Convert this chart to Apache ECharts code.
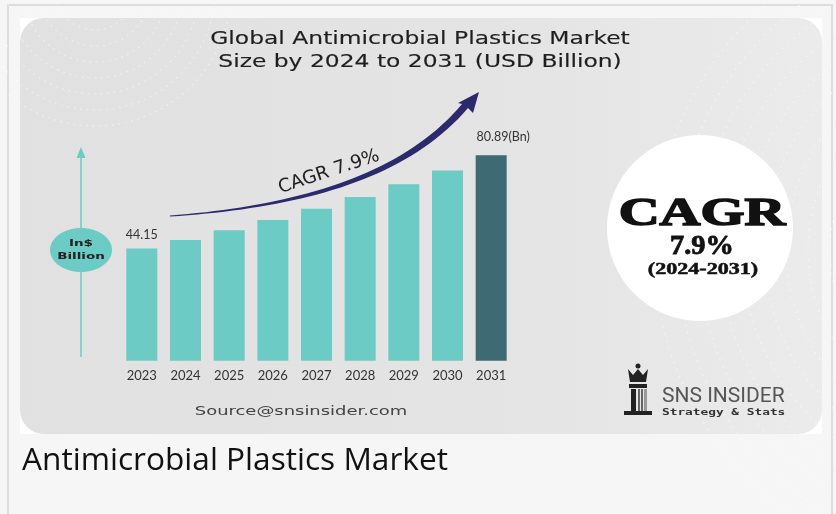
<!DOCTYPE html>
<html>
<head>
<meta charset="utf-8">
<script src="https://cdn.jsdelivr.net/npm/echarts@6/dist/echarts.min.js"></script>
<style>
html,body{margin:0;padding:0;background:#f6f6f6;}
#c{width:836px;height:514px;}
</style>
</head>
<body>
<div id="c"></div>
<script>
const years = ['2023','2024','2025','2026','2027','2028','2029','2030','2031'];
const marketSize = [44.15, 47.5, 51.4, 55.4, 59.8, 64.4, 69.5, 74.9, 80.89];
const titleLines = ['Global Antimicrobial Plastics Market', 'Size by 2024 to 2031 (USD Billion)'];
const cagrText = 'CAGR 7.9%';
const cagrBadge = ['CAGR', '7.9%', '(2024-2031)'];
const unitLines = ['In$', 'Billion'];
const sourceText = 'Source@snsinsider.com';
const brand = ['SNS INSIDER', 'Strategy & Stats'];
const caption = 'Antimicrobial Plastics Market';

const TEAL = '#6dcbc5';
const DARK = '#3e6a73';

const chart = echarts.init(document.getElementById('c'), null, {renderer: 'canvas'});

function txt(x, y, text, font, fill, opts) {
  opts = opts || {};
  const style = {text: text, x: 0, y: 0, font: font, fill: fill,
      textAlign: opts.align || 'center', textVerticalAlign: opts.valign || 'middle'};
  if (opts.stroke) { style.stroke = fill; style.lineWidth = opts.stroke; }
  return {
    type: 'text', x: x, y: y, z: opts.z || 20,
    scaleX: opts.scaleX || 1, rotation: opts.rotation || 0,
    style: style
  };
}

function cubic(p0, p1, p2, p3, n) {
  const pts = [];
  for (let i = 0; i <= n; i++) {
    const t = i / n, u = 1 - t;
    pts.push([
      u*u*u*p0[0] + 3*u*u*t*p1[0] + 3*u*t*t*p2[0] + t*t*t*p3[0],
      u*u*u*p0[1] + 3*u*u*t*p1[1] + 3*u*t*t*p2[1] + t*t*t*p3[1]
    ]);
  }
  return pts;
}
const swoosh = cubic([170,215.6],[290,206],[400,178],[462,104],40)
  .concat([[458,103],[479,92],[473,113]])
  .concat(cubic([468,108],[404,183],[292,208.5],[170,216.6],40));

// faint dotted texture arcs (decoration)
const texture = [];
for (let k = 0; k < 7; k++) {
  texture.push({type: 'arc', z: -2, shape: {cx: 95, cy: -10, r: 40 + k * 16, startAngle: 0, endAngle: Math.PI},
    style: {stroke: 'rgba(255,255,255,0.45)', lineWidth: 1.5, lineDash: [1.5, 5], fill: null}});
}
for (let k = 0; k < 9; k++) {
  texture.push({type: 'arc', z: -2, shape: {cx: 980, cy: 250, r: 150 + k * 22, startAngle: Math.PI * 0.55, endAngle: Math.PI * 1.45},
    style: {stroke: 'rgba(255,255,255,0.5)', lineWidth: 1.4, lineDash: [1.5, 6], fill: null}});
}

const lastIdx = marketSize.length - 1;
const barData = marketSize.map((v, i) => {
  const d = {value: v, itemStyle: {color: i === lastIdx ? DARK : TEAL}};
  if (i === 0) d.label = {show: true, formatter: '{c}', distance: 7};
  if (i === lastIdx) d.label = {show: true, formatter: '{c}(Bn)', distance: 12, offset: [12, 0]};
  return d;
});

const option = {
  backgroundColor: '#f6f6f6',
  animation: false,
  grid: {left: 120, right: 323, top: 106.7, bottom: 153.3},
  xAxis: {
    type: 'category', data: years,
    axisLine: {show: false}, axisTick: {show: false},
    axisLabel: {color: '#333', fontSize: 13, fontFamily: 'Lato', margin: 9}
  },
  yAxis: {type: 'value', min: 0, max: 100, show: false},
  series: [{
    type: 'bar', data: barData, barWidth: 31, z: 5,
    label: {show: false, position: 'top', color: '#333', fontSize: 12.5, fontFamily: 'Lato'}
  }],
  graphic: {elements: [
    {type: 'rect', z: -5, shape: {x: 8, y: 5, width: 824, height: 540}, style: {fill: '#f6f6f6', stroke: '#dcdcdc', lineWidth: 2}},
    {type: 'rect', z: -4, shape: {x: 20, y: 18, width: 802, height: 416}, style: {fill: '#ffffff'}},
    {type: 'rect', z: -3, shape: {x: 20, y: 18, width: 802, height: 416, r: 24},
      style: {fill: new echarts.graphic.LinearGradient(0, 0, 1, 0, [
        {offset: 0, color: '#e1e1e1'}, {offset: 0.6, color: '#e4e4e4'}, {offset: 1, color: '#ebebeb'}])}},
    ...texture,
    {type: 'circle', z: 1, shape: {cx: 700, cy: 228, r: 93}, style: {fill: '#ffffff'}},
    txt(702, 214, cagrBadge[0], 'bold 41px "Liberation Serif"', '#111', {scaleX: 1.38, stroke: 1.6}),
    txt(702, 247, cagrBadge[1], 'bold 27px "Liberation Serif"', '#111', {scaleX: 1.05, stroke: 0.8}),
    txt(703, 270, cagrBadge[2], 'bold 16px "Liberation Serif"', '#111', {scaleX: 1.38, stroke: 0.5}),
    {type: 'line', z: 2, shape: {x1: 81, y1: 154, x2: 81, y2: 357}, style: {stroke: TEAL, lineWidth: 1.5}},
    {type: 'polygon', z: 2, shape: {points: [[81, 147], [76.5, 158], [85.5, 158]]}, style: {fill: TEAL}},
    {type: 'ellipse', z: 3, shape: {cx: 81, cy: 250, rx: 31, ry: 22}, style: {fill: TEAL}},
    txt(81, 244, unitLines[0], 'bold 9px "DejaVu Sans"', '#222', {scaleX: 1.5}),
    txt(81, 257, unitLines[1], 'bold 9px "DejaVu Sans"', '#222', {scaleX: 1.5}),
    {type: 'polygon', z: 3, shape: {points: swoosh}, style: {fill: '#2b2a6c'}},
    txt(329, 172, cagrText, '18.5px "DejaVu Sans"', '#222', {rotation: 0.32}),
    txt(420, 39, titleLines[0], '18px "DejaVu Sans"', '#1e1e1e', {scaleX: 1.3, stroke: 0.15}),
    txt(420, 62, titleLines[1], '18px "DejaVu Sans"', '#1e1e1e', {scaleX: 1.3, stroke: 0.15}),
    txt(301, 412, sourceText, '13px "DejaVu Sans"', '#444', {scaleX: 1.38}),
    {type: 'circle', z: 4, shape: {cx: 638, cy: 366, r: 2.5}, style: {fill: '#222'}},
    {type: 'polygon', z: 4, shape: {points: [[628,369],[633,375],[638,369],[643,375],[648,369],[646,382],[630,382]]}, style: {fill: '#222'}},
    {type: 'rect', z: 4, shape: {x: 629, y: 384, width: 18, height: 4}, style: {fill: '#222'}},
    {type: 'rect', z: 4, shape: {x: 631, y: 389, width: 5, height: 22}, style: {fill: '#222'}},
    {type: 'rect', z: 4, shape: {x: 638, y: 389, width: 2, height: 22}, style: {fill: '#666'}},
    {type: 'rect', z: 4, shape: {x: 641, y: 389, width: 2, height: 22}, style: {fill: '#666'}},
    {type: 'rect', z: 4, shape: {x: 644, y: 389, width: 3, height: 22}, style: {fill: '#999'}},
    {type: 'rect', z: 4, shape: {x: 624, y: 411, width: 28, height: 4}, style: {fill: '#222'}},
    txt(662, 397, brand[0], '20px "Roboto"', '#555', {align: 'left', scaleX: 1.05}),
    txt(662, 413, brand[1], 'bold 8px "DejaVu Sans Mono"', '#333', {align: 'left', scaleX: 1.6}),
    txt(22, 461, caption, '31px "Open Sans"', '#111', {align: 'left', scaleX: 1.02})
  ]}
};
chart.setOption(option);
</script>
</body>
</html>
